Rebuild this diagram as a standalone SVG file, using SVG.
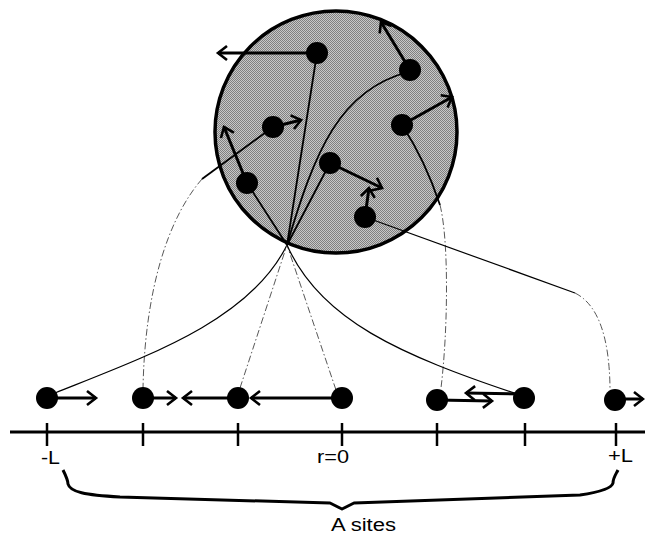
<svg xmlns="http://www.w3.org/2000/svg" width="645" height="536" viewBox="0 0 645 536">
<style>
.arrow{stroke:#000;stroke-width:3;fill:none;marker-end:url(#chev)}
.thin{stroke:#000;stroke-width:1.2;fill:none}
.inner{stroke:#000;stroke-width:1.8;fill:none}
.dd{stroke:#444;stroke-width:0.9;fill:none;stroke-dasharray:7 2.5 1.5 2.5}
.tick{stroke:#000;stroke-width:2.5}
.dot{fill:#000}
.lbl{font-family:"Liberation Sans",Arial,sans-serif;font-size:18px;fill:#000}
</style>
<defs>
<pattern id="stip" width="2" height="2" patternUnits="userSpaceOnUse">
<rect width="2" height="2" fill="#c8c8c8"/>
<rect x="0" y="0" width="1" height="1" fill="#808080"/>
<rect x="1" y="1" width="1" height="1" fill="#808080"/>
</pattern>
<marker id="chev" markerUnits="userSpaceOnUse" markerWidth="16" markerHeight="18" viewBox="0 0 16 18" refX="13" refY="9" orient="auto">
<path d="M4,2 L13,9 L4,16" fill="none" stroke="#000" stroke-width="2.6"/>
</marker>
</defs>

<g id="sphere">
<circle cx="336" cy="132" r="121" fill="url(#stip)" stroke="#000" stroke-width="3.5"/>
</g>

<g id="connectors">
<!-- inside sphere to focal point -->
<line class="inner" x1="287" y1="245" x2="317" y2="53"/>
<line class="inner" x1="287" y1="245" x2="247" y2="183"/>
<line class="inner" x1="287" y1="245" x2="330" y2="163"/>
<path class="inner" d="M287,245 C315,150 340,90 408,72"/>
<!-- sphere particles leaving -->
<line class="inner" x1="273" y1="127" x2="202" y2="179"/>
<path class="dd" d="M202,179 C168,218 145,290 143,388"/>
<path class="inner" d="M402,125 Q425,160 440,205"/>
<path class="dd" d="M440,205 C449,240 448,330 441,388"/>
<path class="thin" d="M365,217 L575,293"/>
<path class="dd" d="M575,293 Q609,310 610,388"/>
<!-- bottom row to focal point -->
<path class="thin" d="M55,393 C150,355 250,320 287,245"/>
<line class="dd" x1="240" y1="388" x2="287" y2="245"/>
<line class="dd" x1="336" y1="390" x2="287" y2="245"/>
<path class="thin" d="M287,245 C320,320 400,355 520,395"/>
</g>

<g id="sphere-particles">
<line class="arrow" x1="317" y1="53" x2="218" y2="53"/>
<line class="arrow" x1="410" y1="70" x2="381" y2="22"/>
<line class="arrow" x1="402" y1="125" x2="452" y2="97"/>
<line class="arrow" x1="273" y1="127" x2="301" y2="120"/>
<line class="arrow" x1="247" y1="183" x2="224" y2="127"/>
<line class="arrow" x1="330" y1="163" x2="382" y2="188"/>
<line class="arrow" x1="365" y1="217" x2="369" y2="188"/>
<circle class="dot" cx="317" cy="53" r="11"/>
<circle class="dot" cx="410" cy="70" r="11"/>
<circle class="dot" cx="402" cy="125" r="11"/>
<circle class="dot" cx="273" cy="127" r="11"/>
<circle class="dot" cx="247" cy="183" r="11"/>
<circle class="dot" cx="330" cy="163" r="11"/>
<circle class="dot" cx="365" cy="217" r="11"/>
</g>

<g id="axis">
<line x1="10" y1="432" x2="645" y2="432" stroke="#000" stroke-width="3"/>
<line class="tick" x1="47" y1="423" x2="47" y2="446"/>
<line class="tick" x1="143" y1="423" x2="143" y2="446"/>
<line class="tick" x1="238" y1="423" x2="238" y2="446"/>
<line class="tick" x1="342" y1="423" x2="342" y2="446"/>
<line class="tick" x1="437" y1="423" x2="437" y2="446"/>
<line class="tick" x1="525" y1="423" x2="525" y2="446"/>
<line class="tick" x1="616" y1="423" x2="616" y2="446"/>
</g>

<g id="site-particles">
<line class="arrow" x1="47" y1="398" x2="96" y2="398"/>
<line class="arrow" x1="143" y1="398" x2="176" y2="398"/>
<line class="arrow" x1="238" y1="398" x2="183" y2="398"/>
<line class="arrow" x1="342" y1="398" x2="251" y2="398"/>
<line class="arrow" x1="437" y1="400" x2="492" y2="401"/>
<line class="arrow" x1="524" y1="394" x2="466" y2="393"/>
<line class="arrow" x1="615" y1="399" x2="643" y2="399"/>
<circle class="dot" cx="47" cy="398" r="11"/>
<circle class="dot" cx="143" cy="398" r="11"/>
<circle class="dot" cx="238" cy="398" r="11"/>
<circle class="dot" cx="342" cy="398" r="11"/>
<circle class="dot" cx="437" cy="400" r="11"/>
<circle class="dot" cx="524" cy="398" r="11"/>
<circle class="dot" cx="615" cy="400" r="11"/>
</g>

<g id="labels">
<text class="lbl" x="41" y="464" textLength="19" lengthAdjust="spacingAndGlyphs">-L</text>
<text class="lbl" x="317" y="463" textLength="32" lengthAdjust="spacingAndGlyphs">r=0</text>
<text class="lbl" x="608" y="462" textLength="25" lengthAdjust="spacingAndGlyphs">+L</text>
<text class="lbl" x="331" y="531" font-size="19" textLength="65" lengthAdjust="spacingAndGlyphs">A sites</text>
</g>

<g id="brace">
<path d="M63,470 C66,476 68,480 68,484 C70,492 85,495 120,497 L330,503 L342,509 L354,503 L580,495 C600,492 612,488 613,483 C613,478 616,474 618,470" fill="none" stroke="#000" stroke-width="3" stroke-linejoin="round"/>
</g>
</svg>
